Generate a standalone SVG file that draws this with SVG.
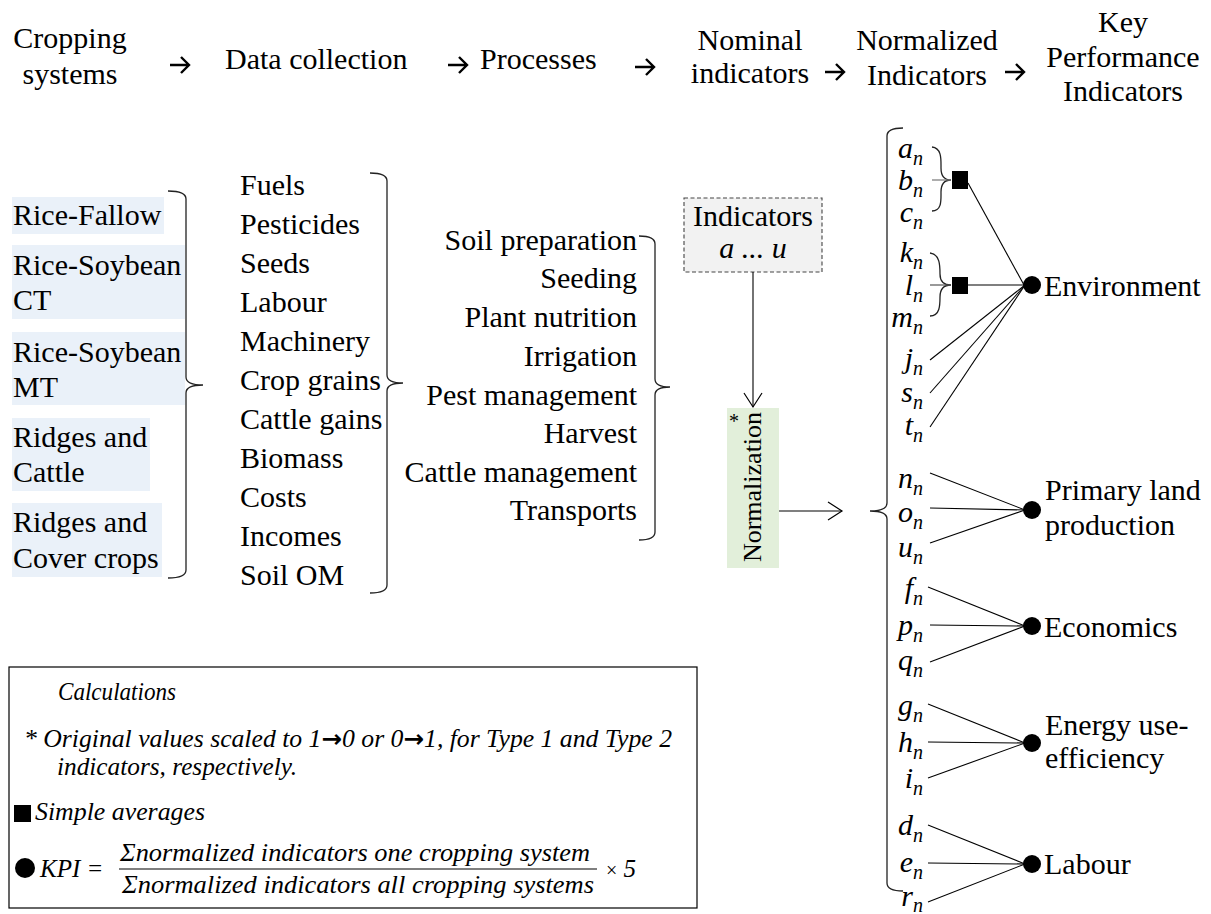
<svg xmlns="http://www.w3.org/2000/svg" width="1211" height="914" viewBox="0 0 1211 914" font-family="Liberation Serif, Times New Roman, serif">
<style>
text{font-family:'Liberation Serif','Times New Roman',serif;fill:#000}
.h{font-size:30px}
.b{font-size:30px}
.it{font-style:italic}
.ind{font-size:30px;font-style:italic}
.sub{font-size:20px}
.lg{font-size:25px;font-style:italic}
.la{font-family:'DejaVu Sans',sans-serif;font-style:normal;font-weight:bold;font-size:24px}
.brace{fill:none;stroke:#222;stroke-width:1.3}
.ln{stroke:#000;stroke-width:1.1;fill:none}
.harr{fill:none;stroke:#000;stroke-width:2.4;stroke-linejoin:miter}
.cs{fill:#EAF1F9}
</style>
<defs>
<marker id="v" markerUnits="userSpaceOnUse" markerWidth="18" markerHeight="22" refX="15" refY="10" orient="auto">
<path d="M1,1 L15,10 L1,19" fill="none" stroke="#000" stroke-width="1.2"/>
</marker>
</defs>

<g id="header">
<text class="h" x="70" y="48" text-anchor="middle">Cropping</text>
<text class="h" x="70" y="84" text-anchor="middle">systems</text>
<text class="h" x="225" y="69">Data collection</text>
<text class="h" x="480" y="69">Processes</text>
<text class="h" x="750" y="50" text-anchor="middle">Nominal</text>
<text class="h" x="750" y="83" text-anchor="middle">indicators</text>
<text class="h" x="927" y="50" text-anchor="middle">Normalized</text>
<text class="h" x="927" y="85" text-anchor="middle">Indicators</text>
<text class="h" x="1123" y="32" text-anchor="middle">Key</text>
<text class="h" x="1123" y="67" text-anchor="middle">Performance</text>
<text class="h" x="1123" y="101" text-anchor="middle">Indicators</text>
</g>

<g id="cropping-systems">
<rect class="cs" x="12" y="197" width="152" height="37"/>
<text class="b" x="13" y="225">Rice-Fallow</text>
<rect class="cs" x="12" y="245" width="173" height="74"/>
<text class="b" x="13" y="275">Rice-Soybean</text>
<text class="b" x="13" y="310">CT</text>
<rect class="cs" x="12" y="332" width="173" height="73"/>
<text class="b" x="13" y="362">Rice-Soybean</text>
<text class="b" x="13" y="397">MT</text>
<rect class="cs" x="12" y="418" width="138" height="73"/>
<text class="b" x="13" y="447">Ridges and</text>
<text class="b" x="13" y="482">Cattle</text>
<rect class="cs" x="12" y="503" width="150" height="74"/>
<text class="b" x="13" y="532">Ridges and</text>
<text class="b" x="13" y="568">Cover crops</text>
</g>

<g id="data-collection">
<text class="b" x="240" y="195">Fuels</text>
<text class="b" x="240" y="234">Pesticides</text>
<text class="b" x="240" y="273">Seeds</text>
<text class="b" x="240" y="312">Labour</text>
<text class="b" x="240" y="351">Machinery</text>
<text class="b" x="240" y="390">Crop grains</text>
<text class="b" x="240" y="429">Cattle gains</text>
<text class="b" x="240" y="468">Biomass</text>
<text class="b" x="240" y="507">Costs</text>
<text class="b" x="240" y="546">Incomes</text>
<text class="b" x="240" y="585">Soil OM</text>
</g>

<g id="processes">
<text class="b" x="637" y="250" text-anchor="end">Soil preparation</text>
<text class="b" x="637" y="288" text-anchor="end">Seeding</text>
<text class="b" x="637" y="327" text-anchor="end">Plant nutrition</text>
<text class="b" x="637" y="366" text-anchor="end">Irrigation</text>
<text class="b" x="637" y="405" text-anchor="end">Pest management</text>
<text class="b" x="637" y="443" text-anchor="end">Harvest</text>
<text class="b" x="637" y="482" text-anchor="end">Cattle management</text>
<text class="b" x="637" y="520" text-anchor="end">Transports</text>
</g>

<g id="indicators-box">
<rect x="684" y="198" width="138" height="74" fill="#F2F2F2" stroke="#444" stroke-width="1.1" stroke-dasharray="4,2.5"/>
<text class="b" x="753" y="226" text-anchor="middle">Indicators</text>
<text class="b it" x="753" y="258" text-anchor="middle">a ... u</text>
</g>

<g id="normalization">
<rect x="727" y="408" width="52" height="160" fill="#E2EFDA"/>
<text class="b" transform="translate(761,487) rotate(-90)" x="0" y="0" text-anchor="middle" style="font-size:26px">Normalization</text>
<text x="729" y="428" style="font-size:20px">*</text>
</g>

<g id="indicators">
<text class="ind" x="923" y="158" text-anchor="end">a<tspan class="sub" dy="7">n</tspan></text>
<text class="ind" x="923" y="190" text-anchor="end">b<tspan class="sub" dy="7">n</tspan></text>
<text class="ind" x="923" y="222" text-anchor="end">c<tspan class="sub" dy="7">n</tspan></text>
<text class="ind" x="923" y="262" text-anchor="end">k<tspan class="sub" dy="7">n</tspan></text>
<text class="ind" x="923" y="295" text-anchor="end">l<tspan class="sub" dy="7">n</tspan></text>
<text class="ind" x="923" y="327" text-anchor="end">m<tspan class="sub" dy="7">n</tspan></text>
<text class="ind" x="923" y="368" text-anchor="end">j<tspan class="sub" dy="7">n</tspan></text>
<text class="ind" x="923" y="402" text-anchor="end">s<tspan class="sub" dy="7">n</tspan></text>
<text class="ind" x="923" y="435" text-anchor="end">t<tspan class="sub" dy="7">n</tspan></text>
<text class="ind" x="923" y="488" text-anchor="end">n<tspan class="sub" dy="7">n</tspan></text>
<text class="ind" x="923" y="522" text-anchor="end">o<tspan class="sub" dy="7">n</tspan></text>
<text class="ind" x="923" y="557" text-anchor="end">u<tspan class="sub" dy="7">n</tspan></text>
<text class="ind" x="923" y="598" text-anchor="end">f<tspan class="sub" dy="7">n</tspan></text>
<text class="ind" x="923" y="635" text-anchor="end">p<tspan class="sub" dy="7">n</tspan></text>
<text class="ind" x="923" y="670" text-anchor="end">q<tspan class="sub" dy="7">n</tspan></text>
<text class="ind" x="923" y="715" text-anchor="end">g<tspan class="sub" dy="7">n</tspan></text>
<text class="ind" x="923" y="752" text-anchor="end">h<tspan class="sub" dy="7">n</tspan></text>
<text class="ind" x="923" y="788" text-anchor="end">i<tspan class="sub" dy="7">n</tspan></text>
<text class="ind" x="923" y="835" text-anchor="end">d<tspan class="sub" dy="7">n</tspan></text>
<text class="ind" x="923" y="872" text-anchor="end">e<tspan class="sub" dy="7">n</tspan></text>
<text class="ind" x="923" y="906" text-anchor="end">r<tspan class="sub" dy="6">n</tspan></text>
</g>

<g id="averages">
<rect x="952" y="171" width="16" height="18" fill="#000"/>
<rect x="952" y="277" width="16" height="17" fill="#000"/>
</g>

<g id="kpi-environment">
<circle cx="1032" cy="285" r="9"/>
<text class="b" x="1044" y="296">Environment</text>
</g>
<g id="kpi-primary">
<circle cx="1032" cy="510" r="9"/>
<text class="b" x="1045" y="500">Primary land</text>
<text class="b" x="1045" y="535">production</text>
</g>
<g id="kpi-economics">
<circle cx="1032" cy="626" r="9"/>
<text class="b" x="1044" y="637">Economics</text>
</g>
<g id="kpi-energy">
<circle cx="1032" cy="743" r="9"/>
<text class="b" x="1045" y="735">Energy use-</text>
<text class="b" x="1045" y="768">efficiency</text>
</g>
<g id="kpi-labour">
<circle cx="1032" cy="864" r="9"/>
<text class="b" x="1044" y="874">Labour</text>
</g>

<g id="connectors">
<path class="harr" d="M170,65 H189 M181,57 L189,65 L181,73"/>
<path class="harr" d="M448,65 H467 M459,57 L467,65 L459,73"/>
<path class="harr" d="M635,67 H654 M646,59 L654,67 L646,75"/>
<path class="harr" d="M825,72 H844 M836,64 L844,72 L836,80"/>
<path class="harr" d="M1005,72 H1024 M1016,64 L1024,72 L1016,80"/>
<path class="brace" d="M168,191 Q186,191 186,199 L186,377 Q186,385 203,385 Q186,385 186,393 L186,570 Q186,578 168,578"/>
<path class="brace" d="M370,173 Q387,173 387,181 L387,375 Q387,383 403,383 Q387,383 387,391 L387,585 Q387,593 370,593"/>
<path class="brace" d="M639,236 Q655,236 655,244 L655,379 Q655,387 670,387 Q655,387 655,395 L655,532 Q655,540 639,540"/>
<path class="brace" d="M903,128 Q887,128 887,136 L887,503 Q887,511 870,511 Q887,511 887,519 L887,883 Q887,891 903,891"/>
<path class="brace" d="M932,147 C942,148 941,160 941,168 C941,176 944,180 951,180 C944,180 941,184 941,192 C941,200 942,211 932,211"/>
<path class="brace" d="M930,253 C940,254 940,266 940,274 C940,281 944,285 951,285 C944,285 940,289 940,297 C940,305 940,316 930,316"/>
<line x1="932" y1="180" x2="951" y2="180" stroke="#777" stroke-width="1.2"/>
<line x1="930" y1="285" x2="951" y2="285" stroke="#555" stroke-width="1.2"/>
<line class="ln" x1="753" y1="272" x2="753" y2="407" marker-end="url(#v)"/>
<line class="ln" x1="779" y1="511" x2="842" y2="511" marker-end="url(#v)"/>
<line class="ln" x1="968" y1="183" x2="1024" y2="285"/>
<line class="ln" x1="968" y1="285" x2="1024" y2="285"/>
<line class="ln" x1="930" y1="360" x2="1025" y2="285"/>
<line class="ln" x1="930" y1="393" x2="1025" y2="285"/>
<line class="ln" x1="930" y1="427" x2="1025" y2="285"/>
<line class="ln" x1="930" y1="473" x2="1025" y2="510"/>
<line class="ln" x1="930" y1="508" x2="1025" y2="510"/>
<line class="ln" x1="930" y1="543" x2="1025" y2="510"/>
<line class="ln" x1="928" y1="587" x2="1025" y2="626"/>
<line class="ln" x1="930" y1="625" x2="1025" y2="626"/>
<line class="ln" x1="930" y1="662" x2="1025" y2="626"/>
<line class="ln" x1="928" y1="704" x2="1025" y2="743"/>
<line class="ln" x1="928" y1="742" x2="1025" y2="743"/>
<line class="ln" x1="928" y1="778" x2="1025" y2="743"/>
<line class="ln" x1="928" y1="825" x2="1025" y2="864"/>
<line class="ln" x1="928" y1="863" x2="1025" y2="864"/>
<line class="ln" x1="928" y1="902" x2="1025" y2="864"/>
</g>

<g id="legend">
<rect x="9" y="667" width="688" height="241" fill="none" stroke="#000" stroke-width="1.2"/>
<text class="lg" x="58" y="700" textLength="118" lengthAdjust="spacingAndGlyphs">Calculations</text>
<text class="lg" x="24" y="747" textLength="648" lengthAdjust="spacingAndGlyphs">* Original values scaled to 1<tspan class="la">→</tspan>0 or 0<tspan class="la">→</tspan>1, for Type 1 and Type 2</text>
<text class="lg" x="57" y="775" textLength="240" lengthAdjust="spacingAndGlyphs">indicators, respectively.</text>
<rect x="14" y="805" width="17" height="17" fill="#000"/>
<text class="lg" x="35" y="820" textLength="170" lengthAdjust="spacingAndGlyphs">Simple averages</text>
<circle cx="25" cy="868" r="10"/>
<text class="lg" x="40" y="877">KPI =</text>
<text class="lg" x="120" y="861" textLength="470" lengthAdjust="spacingAndGlyphs">Σnormalized indicators one cropping system</text>
<line x1="119" y1="869" x2="597" y2="869" stroke="#000" stroke-width="1.1"/>
<text class="lg" x="122" y="893" textLength="472" lengthAdjust="spacingAndGlyphs">Σnormalized indicators all cropping systems</text>
<text class="lg" x="606" y="877"><tspan style="font-style:normal;font-size:20px">×</tspan> 5</text>
</g>
</svg>
